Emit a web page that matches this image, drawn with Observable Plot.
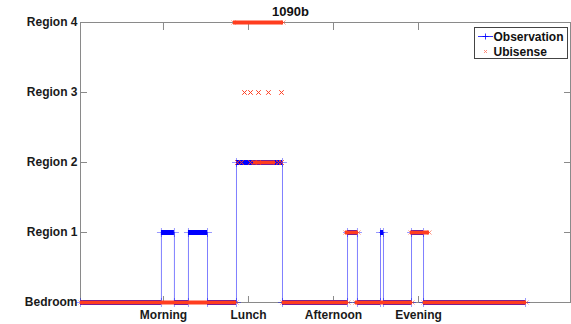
<!DOCTYPE html>
<html><head><meta charset="utf-8">
<script src="https://cdn.jsdelivr.net/npm/d3@7"></script>
<script src="https://cdn.jsdelivr.net/npm/@observablehq/plot@0.6"></script>
<style>
body{margin:0;background:#fff;}
#wrap{position:relative;width:571px;height:324px;font-family:"Liberation Sans",Arial,Helvetica,sans-serif;}
#legend{position:absolute;left:474px;top:27px;}
</style></head><body>
<div id="wrap"></div>
<script>
const title = "1090b";
const levelValues = [0, 1, 2, 3, 4];
const levelLabels = ["Bedroom", "Region 1", "Region 2", "Region 3", "Region 4"];
const periodTicks = [1, 2, 3, 4];
const periodLabels = ["Morning", "Lunch", "Afternoon", "Evening"];
const xDomain = [0.024, 5.788];

// Observation: runs of constant location (start, end, level)
const obsStart = [0.024, 0.976, 1.129, 1.294, 1.518, 1.859, 2.400, 3.165, 3.282, 3.553, 3.588, 3.918, 4.059];
const obsEnd   = [0.976, 1.129, 1.294, 1.518, 1.859, 2.400, 3.165, 3.282, 3.553, 3.588, 3.918, 4.059, 5.259];
const obsLevel = [0, 1, 0, 1, 0, 2, 0, 1, 0, 1, 0, 1, 0];

// Ubisense: dense runs of readings (start, end, level)
const ubiStart = [0.024, 1.824, 2.059, 2.400, 3.141, 3.259, 3.906, 4.059];
const ubiEnd   = [1.859, 2.412, 2.318, 3.176, 3.294, 3.929, 4.129, 5.271];
const ubiLevel = [0, 4, 2, 0, 1, 0, 1, 0];

// Ubisense: isolated readings
const ubiPointX     = [1.871, 1.918, 2.024, 2.118, 2.353, 2.388, 1.953, 2.024, 2.118, 2.235, 2.388];
const ubiPointLevel = [2, 2, 2, 2, 2, 2, 3, 3, 3, 3, 3];

const obs = obsStart.map((s, i) => ({s, e: obsEnd[i], level: obsLevel[i]}));
const obsPath = obs.flatMap(d => [{x: d.s, y: d.level}, {x: d.e, y: d.level}]);
const obsEnds = obs.flatMap(d => [{x: d.s, y: d.level}, {x: d.e, y: d.level}]);
const ubi = ubiStart.map((s, i) => ({s, e: ubiEnd[i], level: ubiLevel[i]}));
const ubiEnds = ubi.flatMap(d => [{x: d.s, y: d.level}, {x: d.e, y: d.level}]);
const ubiPts = ubiPointX.map((x, i) => ({x, y: ubiPointLevel[i]}));

const BLUE = "#0000ff", RED = "#ff3d1f", AX = "#8a8a8a";
const font = {fontSize: 12, fontWeight: "bold"};

const chart = Plot.plot({
  width: 571, height: 324,
  marginLeft: 80, marginRight: 1, marginTop: 22, marginBottom: 22,
  style: {fontFamily: '"Liberation Sans", Arial, Helvetica, sans-serif', fontSize: "12px", color: "#1a1a1a", background: "#fff"},
  x: {domain: xDomain},
  y: {domain: [0, 4]},
  marks: [
    Plot.frame({stroke: AX}),
    Plot.axisY({anchor: "left", ticks: levelValues, tickFormat: d => levelLabels[d], tickSize: -7, tickPadding: 10, stroke: AX, ...font}),
    Plot.axisY({anchor: "right", ticks: levelValues, tickFormat: () => "", tickSize: -7, stroke: AX}),
    Plot.axisX({anchor: "top", ticks: periodTicks, tickFormat: () => "", tickSize: -7, stroke: AX}),
    Plot.axisX({anchor: "bottom", ticks: periodTicks, tickFormat: d => periodLabels[d - 1], tickSize: -6, tickPadding: 14, stroke: AX, ...font}),
    Plot.line(obsPath, {x: "x", y: "y", stroke: BLUE, strokeOpacity: 0.5, strokeWidth: 1}),
    Plot.ruleY(obs, {y: "level", x1: "s", x2: "e", stroke: BLUE, strokeWidth: 5}),
    Plot.dot(obsEnds, {x: "x", y: "y", symbol: "plus", r: 3, stroke: BLUE, strokeOpacity: 0.5, strokeWidth: 0.8, fill: "none"}),
    Plot.ruleY(ubi, {y: "level", x1: "s", x2: "e", stroke: RED, strokeWidth: 4}),
    Plot.dot(ubiEnds, {x: "x", y: "y", symbol: "times", r: 2, stroke: RED, strokeOpacity: 0.7, strokeWidth: 0.8, fill: "none"}),
    Plot.dot(ubiPts, {x: "x", y: "y", symbol: "times", r: 2.2, stroke: RED, strokeWidth: 1, fill: "none"}),
    Plot.text([title], {frameAnchor: "top", dx: -35, dy: -7, lineAnchor: "bottom", fontSize: 13, fontWeight: "bold", fill: "#111"})
  ]
});
document.getElementById("wrap").appendChild(chart);

const legend = document.createElement("div");
legend.id = "legend";
legend.innerHTML = `<svg width="94" height="32" style="font-family:'Liberation Sans',Arial,sans-serif;font-size:12px;font-weight:bold">
<rect x="0.5" y="0.5" width="93" height="31" fill="#fff" stroke="#444"/>
<line x1="4" y1="9.5" x2="19" y2="9.5" stroke="${BLUE}" stroke-width="0.8"/>
<path d="M11.5,6.5v6M8.5,9.5h6" stroke="${BLUE}" stroke-width="0.8"/>
<text x="19.5" y="14" fill="#111">Observation</text>
<path d="M10,23l3,3M13,23l-3,3" stroke="${RED}" stroke-width="0.8" opacity="0.7"/>
<text x="19.5" y="29" fill="#111">Ubisense</text>
</svg>`;
document.getElementById("wrap").appendChild(legend);
</script>
</body></html>
